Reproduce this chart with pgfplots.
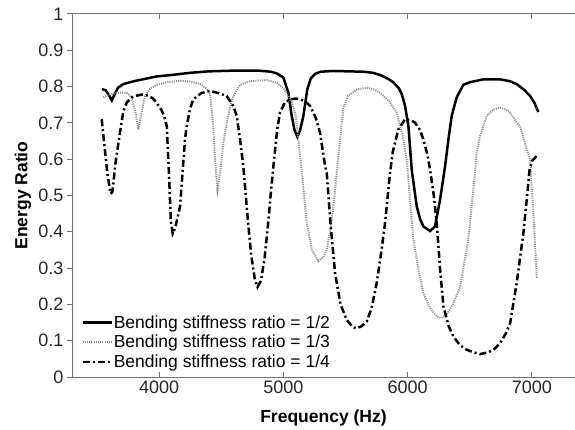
\documentclass[border=0pt]{standalone}
\usepackage{fontspec}
\setmainfont{Liberation Sans}
\usepackage{pgfplots}
\pgfplotsset{compat=1.18}
\definecolor{dotgray}{RGB}{140,140,140}
\begin{document}
\begin{tikzpicture}
\begin{axis}[
  name=ax,
  scale only axis,
  width=503pt, height=363pt,
  xmin=3300, xmax=7346, ymin=0, ymax=1,
  separate axis lines,
  axis x line*=box, axis y line*=left,
  axis line style={black!55, line width=1pt},
  every tick/.style={black!55, line width=1pt},
  major tick length=5pt,
  xtick align=inside, ytick align=outside,
  xtick={4000,5000,6000,7000},
  ytick={0,0.1,0.2,0.3,0.4,0.5,0.6,0.7,0.8,0.9,1},
  yticklabels={0,0.1,0.2,0.3,0.4,0.5,0.6,0.7,0.8,0.9,1},
  scaled x ticks=false,
  /pgf/number format/1000 sep={},
  /pgf/number format/assume math mode=true,
  tick label style={font=\fontsize{18}{20}\selectfont, text=black!85},
  xlabel={Frequency (Hz)}, ylabel={Energy Ratio},
  label style={font=\fontsize{17.5}{20}\selectfont\bfseries},
  xlabel style={at={(axis description cs:0.5,-0.113)}, anchor=center},
  ylabel style={at={(axis description cs:-0.0974,0.5)}, anchor=center},
  legend style={draw=none, fill=none, at={(axis description cs:0.016,0.016)}, anchor=south west,
    font=\fontsize{17.5}{20}\selectfont, row sep=3.5pt, inner sep=1pt, nodes={inner sep=1pt}},
  legend cell align=left,
  legend image code/.code={\draw[#1] plot coordinates {(0pt,0pt) (29pt,0pt)};},
  clip=false,
]
\addplot[black, line width=2.5pt] coordinates {
(3541,0.793)(3570,0.790)(3595,0.778)(3620,0.762)(3645,0.780)(3670,0.797)(3713,0.807)(3800,0.815)
(3981,0.828)(4100,0.832)(4250,0.838)(4400,0.842)(4600,0.844)(4800,0.844)(4900,0.841)(4950,0.836)
(5000,0.825)(5040,0.784)(5067,0.720)(5090,0.680)(5113,0.662)(5135,0.680)(5161,0.719)(5193,0.793)
(5220,0.822)(5255,0.835)(5300,0.841)(5400,0.843)(5644,0.841)(5720,0.838)(5778,0.832)(5840,0.822)
(5885,0.812)(5930,0.795)(5952,0.780)(5979,0.747)(6006,0.691)(6033,0.570)(6073,0.470)(6100,0.435)
(6126,0.415)(6180,0.402)(6220,0.415)(6261,0.489)(6301,0.581)(6330,0.660)(6354,0.719)(6394,0.770)
(6448,0.805)(6500,0.812)(6609,0.820)(6743,0.820)(6820,0.815)(6877,0.807)(6940,0.790)(6985,0.774)
(7020,0.755)(7051,0.730)
};
\addlegendentry{Bending stiffness ratio = 1/2}
\addplot[dotgray, line width=1.9pt, dash pattern=on 1.1pt off 1.1pt] coordinates {
(3552,0.770)(3600,0.778)(3660,0.783)(3740,0.783)(3780,0.770)(3810,0.730)(3833,0.682)(3855,0.720)
(3887,0.774)(3930,0.795)(3981,0.805)(4080,0.813)(4169,0.816)(4250,0.814)(4330,0.807)(4380,0.795)
(4410,0.780)(4435,0.700)(4450,0.600)(4470,0.515)(4490,0.560)(4520,0.650)(4545,0.700)(4575,0.750)
(4598,0.774)(4652,0.805)(4732,0.815)(4866,0.818)(4950,0.810)(5000,0.795)(5040,0.775)(5067,0.760)
(5100,0.720)(5125,0.640)(5150,0.560)(5188,0.424)(5230,0.350)(5282,0.319)(5320,0.330)(5349,0.351)
(5380,0.410)(5403,0.470)(5443,0.609)(5456,0.655)(5483,0.740)(5520,0.775)(5600,0.793)(5671,0.797)
(5730,0.792)(5778,0.783)(5850,0.760)(5912,0.728)(5966,0.655)(5992,0.600)(6046,0.378)(6090,0.290)
(6126,0.231)(6180,0.190)(6234,0.167)(6270,0.163)(6313,0.171)(6370,0.205)(6422,0.249)(6488,0.378)
(6529,0.520)(6556,0.620)(6582,0.664)(6636,0.719)(6690,0.737)(6743,0.742)(6790,0.737)(6824,0.728)
(6870,0.705)(6904,0.691)(6958,0.627)(6985,0.599)(7011,0.450)(7039,0.273)
};
\addlegendentry{Bending stiffness ratio = 1/3}
\addplot[black, line width=2.5pt, dash pattern=on 7pt off 3pt on 2pt off 3pt] coordinates {
(3539,0.710)(3560,0.640)(3585,0.560)(3610,0.505)(3625,0.510)(3650,0.590)(3686,0.673)(3712,0.730)
(3740,0.756)(3780,0.770)(3820,0.775)(3860,0.778)(3901,0.776)(3950,0.768)(3981,0.755)(4020,0.735)
(4040,0.720)(4062,0.691)(4080,0.560)(4095,0.430)(4110,0.395)(4130,0.410)(4169,0.470)(4209,0.655)
(4223,0.691)(4250,0.740)(4276,0.765)(4340,0.782)(4410,0.788)(4480,0.782)(4545,0.774)(4600,0.745)
(4625,0.719)(4650,0.660)(4678,0.581)(4710,0.450)(4740,0.340)(4770,0.270)(4792,0.248)(4820,0.265)
(4850,0.330)(4880,0.430)(4900,0.510)(4920,0.581)(4950,0.680)(4973,0.728)(5010,0.755)(5054,0.765)
(5100,0.767)(5134,0.765)(5180,0.758)(5215,0.747)(5260,0.715)(5295,0.673)(5336,0.581)(5349,0.562)
(5380,0.420)(5416,0.286)(5460,0.200)(5510,0.157)(5560,0.137)(5590,0.134)(5630,0.140)(5671,0.153)
(5710,0.190)(5751,0.259)(5790,0.350)(5818,0.424)(5858,0.562)(5880,0.620)(5925,0.682)(5979,0.710)
(6020,0.708)(6059,0.701)(6100,0.680)(6126,0.655)(6160,0.610)(6180,0.572)(6210,0.500)(6234,0.424)
(6260,0.300)(6288,0.194)(6330,0.140)(6368,0.111)(6420,0.088)(6475,0.075)(6530,0.068)(6582,0.063)
(6650,0.068)(6700,0.078)(6743,0.093)(6790,0.120)(6824,0.148)(6877,0.259)(6931,0.397)(6958,0.489)
(6980,0.570)(7000,0.595)(7038,0.609)
};
\addlegendentry{Bending stiffness ratio = 1/4}
\end{axis}
\pgfresetboundingbox
\path ([shift={(-72pt,-52pt)}]ax.south west) rectangle ([shift={(0pt,14pt)}]ax.north east);
\end{tikzpicture}
\end{document}
